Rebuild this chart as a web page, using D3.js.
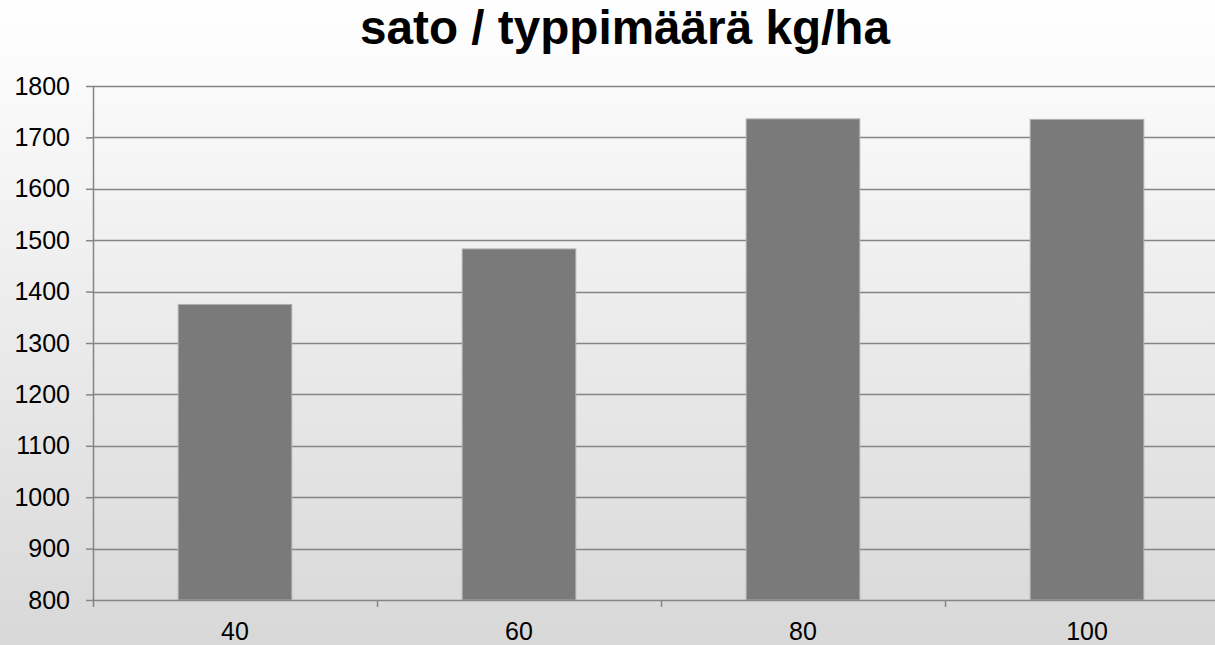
<!DOCTYPE html>
<html>
<head>
<meta charset="utf-8">
<script src="https://cdn.jsdelivr.net/npm/d3@7"></script>
<style>
  html, body { margin: 0; padding: 0; overflow: hidden; }
  svg { display: block; }
</style>
</head>
<body>
<script>
const width = 1215;
const height = 645;

const title = "sato / typpimäärä kg/ha";
const categories = ["40", "60", "80", "100"];
const values = [1375, 1483, 1736, 1735];
const yTicks = [800, 900, 1000, 1100, 1200, 1300, 1400, 1500, 1600, 1700, 1800];

const margin = { left: 93, top: 86, bottom: 600, right: 1229 };

const svg = d3.select("body").append("svg")
  .attr("width", width)
  .attr("height", height);

// background gradient
const grad = svg.append("defs").append("linearGradient")
  .attr("id", "bg")
  .attr("x1", 0).attr("y1", 0).attr("x2", 0).attr("y2", 1);
grad.append("stop").attr("offset", "0%").attr("stop-color", "#ffffff");
grad.append("stop").attr("offset", "100%").attr("stop-color", "#d8d8d8");

svg.append("rect")
  .attr("width", width)
  .attr("height", height)
  .attr("fill", "url(#bg)");

svg.append("text")
  .attr("x", 625)
  .attr("y", 44)
  .attr("text-anchor", "middle")
  .attr("font-family", "Liberation Sans, Arial, sans-serif")
  .attr("font-weight", "bold")
  .attr("font-size", 47.7)
  .attr("fill", "#000")
  .text(title);

const x = d3.scaleBand()
  .domain(categories)
  .range([margin.left, margin.right])
  .paddingInner(0.6)
  .paddingOuter(0.3);

const y = d3.scaleLinear()
  .domain([800, 1800])
  .range([margin.bottom, margin.top]);

// y ticks + labels
const yAxis = svg.append("g")
  .attr("transform", `translate(${margin.left},0)`)
  .call(d3.axisLeft(y).tickValues(yTicks).tickSize(7).tickPadding(16).tickFormat(d3.format("d")));
yAxis.select(".domain").remove();
yAxis.selectAll(".tick line").attr("stroke", "#858585").attr("stroke-width", 1.5);
yAxis.selectAll(".tick text")
  .attr("font-family", "Liberation Sans, Arial, sans-serif")
  .attr("font-size", 25)
  .attr("fill", "#000");

// gridlines
svg.append("g")
  .selectAll("line")
  .data(yTicks.slice(1))
  .join("line")
  .attr("x1", margin.left)
  .attr("x2", width)
  .attr("y1", (d) => Math.round(y(d)) + 0.5)
  .attr("y2", (d) => Math.round(y(d)) + 0.5)
  .attr("stroke", "#858585")
  .attr("stroke-width", 1.5);

// bars
svg.append("g")
  .selectAll("rect")
  .data(values)
  .join("rect")
  .attr("x", (d, i) => x(categories[i]))
  .attr("y", (d) => y(d))
  .attr("width", x.bandwidth())
  .attr("height", (d) => y(800) - y(d))
  .attr("fill", "#7a7a7a")
  .attr("stroke", "#b0b0b0")
  .attr("stroke-width", 1);

// x axis
const xBounds = d3.range(categories.length + 1).map((i) => margin.left + i * (margin.right - margin.left) / categories.length);
svg.append("line")
  .attr("x1", margin.left)
  .attr("x2", width)
  .attr("y1", y(800) + 0.5)
  .attr("y2", y(800) + 0.5)
  .attr("stroke", "#858585")
  .attr("stroke-width", 1.5);
svg.append("line")
  .attr("x1", margin.left + 0.5)
  .attr("x2", margin.left + 0.5)
  .attr("y1", margin.top)
  .attr("y2", y(800) + 7)
  .attr("stroke", "#858585")
  .attr("stroke-width", 1.5);
svg.append("g")
  .selectAll("line")
  .data(xBounds.slice(1))
  .join("line")
  .attr("x1", (d) => Math.round(d) + 0.5)
  .attr("x2", (d) => Math.round(d) + 0.5)
  .attr("y1", y(800))
  .attr("y2", y(800) + 7)
  .attr("stroke", "#858585")
  .attr("stroke-width", 1.5);

svg.append("g")
  .selectAll("text")
  .data(categories)
  .join("text")
  .attr("x", (d) => x(d) + x.bandwidth() / 2)
  .attr("y", 640)
  .attr("text-anchor", "middle")
  .attr("font-family", "Liberation Sans, Arial, sans-serif")
  .attr("font-size", 25)
  .attr("fill", "#000")
  .text((d) => d);
</script>
</body>
</html>
